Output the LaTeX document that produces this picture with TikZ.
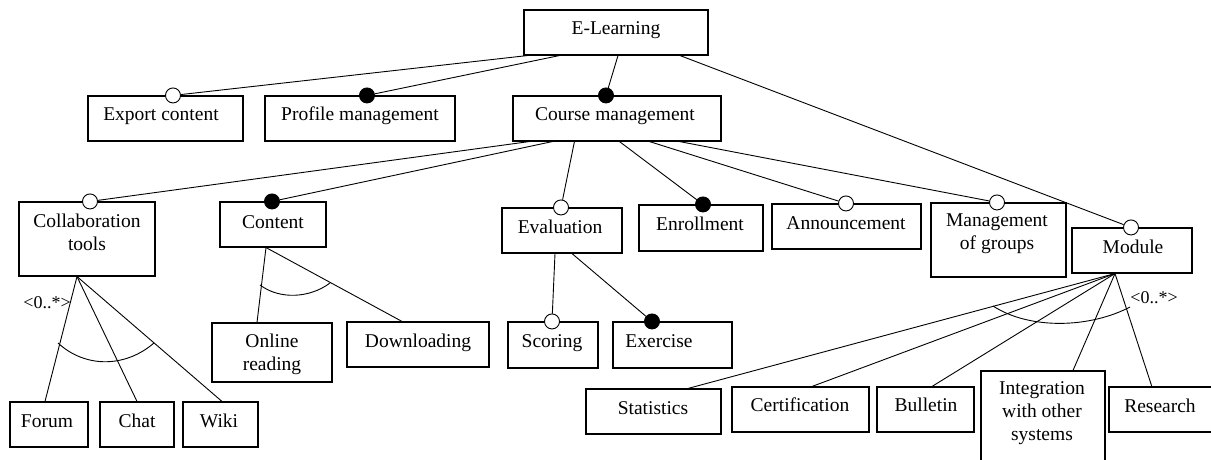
\documentclass[tikz,border=0pt]{standalone}
\usepackage{fontspec}
\setmainfont{Liberation Serif}
\begin{document}
\begin{tikzpicture}[x=1pt,y=-1pt,
  every node/.style={font=\fontsize{19.5}{23}\selectfont},
  featbox/.style={draw, line width=1.1pt, rectangle, inner sep=0pt},
  lbl/.style={inner sep=0pt, text height=14pt, text depth=4pt},
  mlbl/.style={inner sep=0pt, align=center},
  opt/.style={circle, draw, line width=0.9pt, fill=white, minimum size=15pt, inner sep=0pt},
  man/.style={circle, draw, line width=0.9pt, fill=black, minimum size=15pt, inner sep=0pt},
  edge/.style={line width=0.9pt},
  card/.style={inner sep=0pt, font=\fontsize{18}{20}\selectfont}]
\useasboundingbox (0,0) rectangle (1211,460);
\clip (0,0) rectangle (1211,460);

% feature box: name, left, top, right, bottom
\newcommand\featbox[5]{%
  \node[featbox, minimum width={(#4-#2)*1pt}, minimum height={(#5-#3)*1pt}]
    (#1) at ({(#2+#4)/2},{(#3+#5)/2}) {};}

% boxes
\featbox{el}{524}{10}{708}{55}
\featbox{exp}{88}{96}{243}{141}
\featbox{prof}{265}{96}{455}{141}
\featbox{crs}{513}{96}{721}{141}
\featbox{col}{19}{202}{155}{276}
\featbox{cnt}{220}{202}{326}{247}
\featbox{eva}{502}{208}{622}{253}
\featbox{enr}{639}{205}{763}{251}
\featbox{ann}{772}{204}{921}{249}
\featbox{grp}{931}{203}{1066}{277}
\featbox{mod}{1072}{228}{1192}{273}
\featbox{onl}{212}{323}{332}{382}
\featbox{dwn}{347}{322}{489}{367}
\featbox{sco}{508}{322}{598}{368}
\featbox{exe}{613}{322}{732}{368}
\featbox{for}{10}{402}{88}{447}
\featbox{cha}{100}{402}{174}{447}
\featbox{wik}{183}{402}{258}{447}
\featbox{sta}{586}{389}{721}{434}
\featbox{cer}{732}{387}{869}{432}
\featbox{bul}{877}{387}{974}{432}
\featbox{int}{981}{371}{1105}{480}
\featbox{res}{1109}{387}{1230}{432}

% labels
\node[lbl] (t-el)   at (616,30)  {E-Learning};
\node[lbl] (t-exp)  at (161,116) {Export content};
\node[lbl] (t-prof) at (360,116) {Profile management};
\node[lbl] (t-crs)  at (615,116) {Course management};
\node[mlbl] (t-col) at (87,232)  {Collaboration\\tools};
\node[lbl] (t-cnt)  at (273,223) {Content};
\node[lbl] (t-eva)  at (560,228) {Evaluation};
\node[lbl] (t-enr)  at (700,225) {Enrollment};
\node[lbl] (t-ann)  at (846,224) {Announcement};
\node[mlbl] (t-grp) at (997,234) {Management\\of groups};
\node[lbl] (t-mod)  at (1133,248) {Module};
\node[mlbl] (t-onl) at (272,354) {Online\\reading};
\node[lbl] (t-dwn)  at (418,342) {Downloading};
\node[lbl] (t-sco)  at (552,342) {Scoring};
\node[lbl] (t-exe)  at (659,342) {Exercise};
\node[lbl] (t-for)  at (47,422)  {Forum};
\node[lbl] (t-cha)  at (137,422) {Chat};
\node[lbl] (t-wik)  at (219,422) {Wiki};
\node[lbl] (t-sta)  at (653,409) {Statistics};
\node[lbl] (t-cer)  at (800,406) {Certification};
\node[lbl] (t-bul)  at (926,406) {Bulletin};
\node[mlbl] (t-int) at (1042,413) {Integration\\with other\\systems};
\node[lbl] (t-res)  at (1160,407) {Research};

% optional / mandatory markers
\node[opt] (o-exp)  at ([xshift=7.5pt]exp.north) {};
\node[man] (o-prof) at ([xshift=7pt]prof.north) {};
\node[man] (o-crs)  at ([xshift=-11pt]crs.north) {};
\node[opt] (o-col)  at ([xshift=3pt]col.north) {};
\node[man] (o-cnt)  at ([xshift=-1pt]cnt.north) {};
\node[opt] (o-eva)  at ([xshift=-1pt]eva.north) {};
\node[man] (o-enr)  at ([xshift=2pt]enr.north) {};
\node[opt] (o-ann)  at ([xshift=-0.5pt]ann.north) {};
\node[opt] (o-grp)  at ([xshift=-1.5pt]grp.north) {};
\node[opt] (o-mod)  at ([xshift=-1pt]mod.north) {};
\node[opt] (o-sco)  at ([xshift=-1pt]sco.north) {};
\node[man] (o-exe)  at ([xshift=-20.5pt]exe.north) {};

% E-Learning children
\draw[edge] ([xshift=4pt]el.south west)  -- (o-exp);
\draw[edge] ([xshift=36pt]el.south west) -- (o-prof);
\draw[edge] ([xshift=2pt]el.south)       -- (o-crs);
\draw[edge] ([xshift=64pt]el.south)      -- (o-mod);

% Course management children
\draw[edge] ([xshift=17pt]crs.south west)  -- (o-col);
\draw[edge] ([xshift=40pt]crs.south west)  -- (o-cnt);
\draw[edge] ([xshift=62pt]crs.south west)  -- (o-eva);
\draw[edge] ([xshift=107pt]crs.south west) -- (o-enr);
\draw[edge] ([xshift=137pt]crs.south west) -- (o-ann);
\draw[edge] ([xshift=167pt]crs.south west) -- (o-grp);

% Collaboration tools group
\coordinate (col-a) at ([xshift=-10pt]col.south);
\draw[edge] (col-a) -- ([xshift=-4pt]for.north);
\draw[edge] (col-a) -- (cha.north);
\draw[edge] (col-a) -- ([xshift=1.5pt]wik.north);
\draw[edge] (58,343) .. controls (85,368) and (125,368) .. (154,343);
\node[card] (c-col) at (47,303) {<0..*>};

% Content group
\coordinate (cnt-a) at ([xshift=-7pt]cnt.south);
\draw[edge] (cnt-a) -- ([xshift=-15pt]onl.north);
\draw[edge] (cnt-a) -- ([xshift=-16pt]dwn.north);
\draw[edge] (260,285) .. controls (280,300) and (310,298) .. (330,283);

% Evaluation children
\draw[edge] ([xshift=-7pt]eva.south)  -- (o-sco);
\draw[edge] ([xshift=10pt]eva.south)  -- (o-exe);

% Module group
\coordinate (mod-a) at ([xshift=-17pt]mod.south);
\draw[edge] (mod-a) -- ([xshift=34.5pt]sta.north);
\draw[edge] (mod-a) -- ([xshift=11.5pt]cer.north);
\draw[edge] (mod-a) -- ([xshift=6.5pt]bul.north);
\draw[edge] (mod-a) -- ([xshift=30pt]int.north);
\draw[edge] (mod-a) -- (1152,387);
\draw[edge] (993,306) .. controls (1030,330) and (1090,328) .. (1130,307);
\node[card] (c-mod) at (1154,298) {<0..*>};
\end{tikzpicture}
\end{document}
